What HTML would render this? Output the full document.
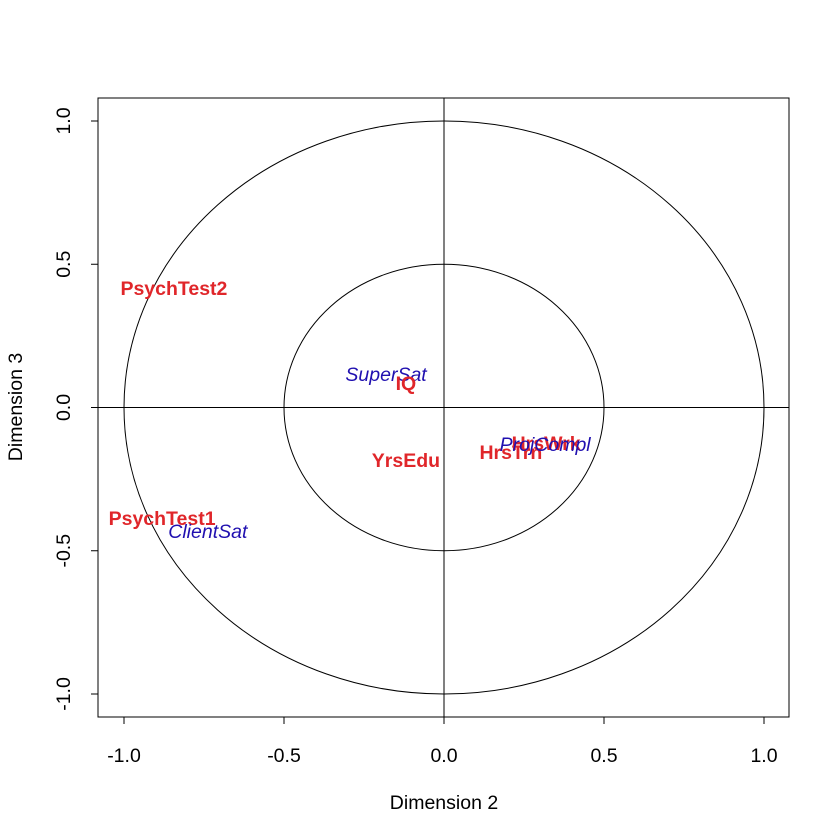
<!DOCTYPE html>
<html><head><meta charset="utf-8"><style>body{margin:0;background:#fff}svg{display:block}text{font-family:"Liberation Sans",sans-serif}</style></head>
<body>
<svg id="chart" width="840" height="840">
<rect x="98" y="98" width="691" height="619" fill="none" stroke="#000"/>
<g id="g"></g>
<text x="444" y="809" font-size="19.5" text-anchor="middle">Dimension  2</text>
<text transform="translate(22,407) rotate(-90)" font-size="19.5" text-anchor="middle">Dimension  3</text>
</svg>
<script>
const xTicks=[-1,-0.5,0,0.5,1];
const yTicks=[-1,-0.5,0,0.5,1];
const tickLabels=["-1.0","-0.5","0.0","0.5","1.0"];
const labels=["PsychTest2","SuperSat","IQ","YrsEdu","HrsTrn","HrsWrk","ProjCompl","PsychTest1","ClientSat"];
const xs=[-0.844,-0.181,-0.119,-0.119,0.209,0.319,0.316,-0.881,-0.738];
const ys=[0.417,0.117,0.086,-0.183,-0.155,-0.124,-0.127,-0.386,-0.431];
const kinds=["active","supp","active","active","active","active","supp","active","supp"];
const X=v=>444+v*320, Y=v=>407.5-v*286.5;
const g=document.getElementById('g');const NS="http://www.w3.org/2000/svg";
function mk(t,a){const e=document.createElementNS(NS,t);for(const k in a)e.setAttribute(k,a[k]);g.appendChild(e);return e;}
let e;
e=mk('ellipse',{cx:X(0),cy:Y(0),rx:320,ry:286.5,fill:'none',stroke:'#000'});


e=mk('ellipse',{cx:X(0),cy:Y(0),rx:160,ry:143.25,fill:'none',stroke:'#000'});


e=mk('line',{x1:98,x2:789,y1:Y(0),y2:Y(0),stroke:'#000'});


e=mk('line',{x1:X(0),x2:X(0),y1:98,y2:717,stroke:'#000'});


xTicks.forEach((v,i)=>{
 e=mk('line',{x1:X(v),x2:X(v),y1:717,y2:724,stroke:'#000'});
 
 
 e=mk('text',{x:X(v),y:762,'font-size':19.5,'text-anchor':'middle'});e.textContent=tickLabels[i];
 
 
});
yTicks.forEach((v,i)=>{
 e=mk('line',{x1:91,x2:98,y1:Y(v),y2:Y(v),stroke:'#000'});
 
 
 e=mk('text',{transform:`translate(70,${Y(v)}) rotate(-90)`,'font-size':19.5,'text-anchor':'middle'});e.textContent=tickLabels[i];
 
 
});
labels.forEach((l,i)=>{
 const a=kinds[i]==='active';
 e=mk('text',{x:X(xs[i]),y:Y(ys[i])+7,'font-size':19.5,'text-anchor':'middle',fill:a?'#e0262a':'#2010b0','font-weight':a?'bold':'normal','font-style':a?'normal':'italic'});
 e.textContent=l;
 
 
});
</script>
</body></html>
